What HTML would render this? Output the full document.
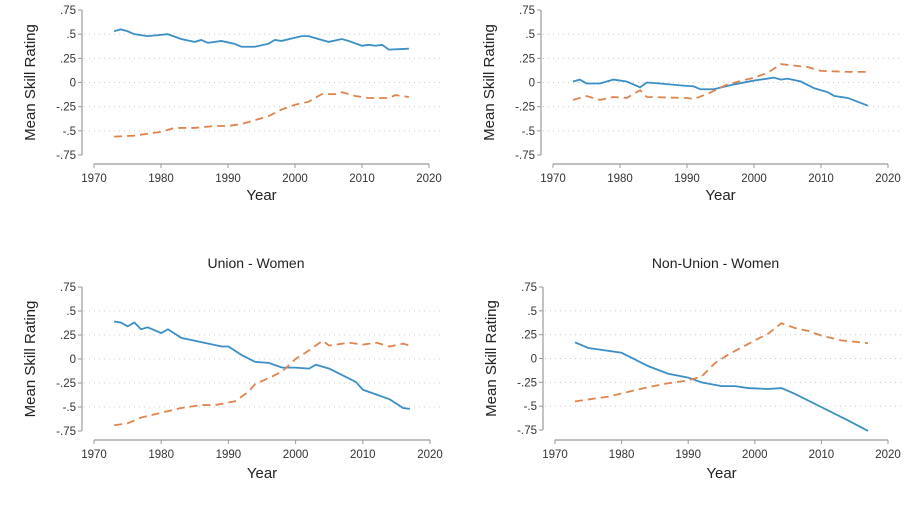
<!DOCTYPE html>
<html><head><meta charset="utf-8"><style>
html,body{margin:0;padding:0;background:#fff;}
svg{display:block;font-family:"Liberation Sans",sans-serif;}
</style></head><body>
<svg id="c" width="918" height="517" viewBox="0 0 918 517"></svg>
<script>
const yTicks=[0.75,0.5,0.25,0,-0.25,-0.5,-0.75];
const yTickLabels=[".75",".5",".25","0","-.25","-.5","-.75"];
const xTicks=[1970,1980,1990,2000,2010,2020];
const titles=["","","Union - Women","Non-Union - Women"];
const p1Years=[1973,1974,1975,1976,1978,1981,1983,1985,1986,1987,1989,1991,1992,1994,1996,1997,1998,2001,2002,2005,2007,2008,2010,2011,2012,2013,2014,2017];
const p1Blue=[.53,.55,.53,.50,.48,.50,.45,.42,.44,.41,.43,.40,.37,.37,.40,.44,.43,.48,.48,.42,.45,.43,.38,.39,.38,.39,.34,.35];
const p1OYears=[1973,1976,1980,1982,1985,1988,1990,1992,1994,1996,1998,2000,2002,2004,2006,2007,2009,2011,2014,2015,2017];
const p1Orange=[-.56,-.55,-.51,-.47,-.47,-.45,-.45,-.43,-.39,-.35,-.28,-.23,-.20,-.12,-.12,-.10,-.14,-.16,-.16,-.13,-.15];
const p2Years=[1973,1974,1975,1977,1979,1981,1983,1984,1986,1989,1991,1992,1994,1997,2000,2003,2004,2005,2007,2009,2011,2012,2014,2017];
const p2Blue=[.01,.03,-.01,-.01,.03,.01,-.05,0,-.01,-.03,-.04,-.07,-.07,-.02,.02,.05,.03,.04,.01,-.06,-.10,-.14,-.16,-.24];
const p2OYears=[1973,1975,1977,1979,1981,1983,1984,1990,1991,1993,1996,2000,2002,2004,2008,2010,2014,2017];
const p2Orange=[-.18,-.14,-.18,-.15,-.16,-.08,-.15,-.16,-.17,-.12,-.02,.05,.10,.19,.16,.12,.11,.11];
const p3Years=[1973,1974,1975,1976,1977,1978,1980,1981,1983,1985,1987,1989,1990,1992,1994,1996,1998,2000,2002,2003,2005,2007,2009,2010,2012,2014,2016,2017];
const p3Blue=[.39,.38,.34,.38,.31,.33,.27,.31,.22,.19,.16,.13,.13,.04,-.03,-.04,-.09,-.09,-.10,-.06,-.10,-.17,-.24,-.32,-.37,-.42,-.51,-.52];
const p3OYears=[1973,1975,1977,1980,1983,1986,1988,1991,1993,1994,1996,1998,2000,2002,2004,2005,2008,2010,2012,2014,2016,2017];
const p3Orange=[-.69,-.67,-.61,-.56,-.51,-.48,-.48,-.44,-.34,-.26,-.20,-.13,0,.09,.19,.14,.17,.15,.17,.13,.16,.14];
const p4Years=[1973,1975,1977,1980,1982,1984,1987,1990,1992,1995,1997,1999,2002,2004,2006,2010,2014,2017];
const p4Blue=[.17,.11,.09,.06,-.01,-.08,-.16,-.20,-.25,-.29,-.29,-.31,-.32,-.31,-.37,-.51,-.65,-.76];
const p4OYears=[1973,1976,1978,1981,1984,1987,1990,1992,1994,1996,2000,2002,2004,2006,2008,2010,2013,2017];
const p4Orange=[-.45,-.42,-.40,-.35,-.30,-.26,-.23,-.19,-.05,.04,.19,.26,.37,.32,.29,.24,.19,.16];

const panels=[
 {ox:0,top:10,bot:155,ax:164,x0:94,x1:429,yl:200,by:p1Years,b:p1Blue,oy:p1OYears,o:p1Orange},
 {ox:459,top:10,bot:155,ax:164,x0:94,x1:429,yl:200,by:p2Years,b:p2Blue,oy:p2OYears,o:p2Orange},
 {ox:0,top:287,bot:431,ax:440,x0:94,x1:430,yl:478,by:p3Years,b:p3Blue,oy:p3OYears,o:p3Orange},
 {ox:461,top:287,bot:430,ax:440,x0:94,x1:427,yl:478,by:p4Years,b:p4Blue,oy:p4OYears,o:p4Orange}
];
const svg=document.getElementById('c');
const NS='http://www.w3.org/2000/svg';
function mk(tag,attrs,parent){const e=document.createElementNS(NS,tag);for(const k in attrs)e.setAttribute(k,attrs[k]);parent.appendChild(e);return e;}
panels.forEach((p,i)=>{
 const g=mk('g',{transform:'translate('+p.ox+',0)'},svg);
 
 
 const xs=v=>p.x0+(v-1970)/50*(p.x1-p.x0);
 const ys=v=>p.top+(0.75-v)/1.5*(p.bot-p.top);
 if(titles[i]){const t=mk('text',{x:(p.x0+p.x1)/2-6,y:268,'text-anchor':'middle','font-size':'14',fill:'#222'},g);t.textContent=titles[i];
  }
 // y axis
 const ya=mk('line',{x1:82,x2:82,y1:ys(0.75),y2:ys(-0.75),stroke:'#999','stroke-width':1.2},g);
 
 yTicks.forEach((v,k)=>{
  const y=ys(v);
  mk('line',{x1:78,x2:82,y1:y,y2:y,stroke:'#999'},g);
  if(v!==0.75&&v!==-0.75){const gl=mk('line',{x1:84,x2:440,y1:y,y2:y,stroke:'#ccc','stroke-dasharray':'1 4'},g);
   }
  const t=mk('text',{x:76,y:y+4,'text-anchor':'end','font-size':'11.5',fill:'#333'},g);t.textContent=yTickLabels[k];
  
 });
 const yl=mk('text',{transform:'translate(35,'+((p.top+p.bot)/2)+') rotate(-90)','text-anchor':'middle','font-size':'15',fill:'#222'},g);
 yl.textContent='Mean Skill Rating';
 const xa=mk('line',{x1:xs(1970),x2:xs(2020),y1:p.ax,y2:p.ax,stroke:'#999','stroke-width':1.2},g);
 
 xTicks.forEach(v=>{const x=xs(v);mk('line',{x1:x,x2:x,y1:p.ax,y2:p.ax+4,stroke:'#999'},g);
  const t=mk('text',{x:x,y:p.ax+18,'text-anchor':'middle','font-size':'11.5',fill:'#333'},g);t.textContent=v;
  });
 const xl=mk('text',{x:(xs(1970)+xs(2020))/2,y:p.yl,'text-anchor':'middle','font-size':'15',fill:'#222'},g);
 xl.textContent='Year';
 const bl=mk('polyline',{points:p.by.map((yr,k)=>xs(yr)+','+ys(p.b[k])).join(' '),fill:'none',stroke:'#3a8fc6','stroke-width':1.8},g);
 
 const ol=mk('polyline',{points:p.oy.map((yr,k)=>xs(yr)+','+ys(p.o[k])).join(' '),fill:'none',stroke:'#e0844c','stroke-width':1.8,'stroke-dasharray':'8 5'},g);
 
});
</script>
</body></html>
